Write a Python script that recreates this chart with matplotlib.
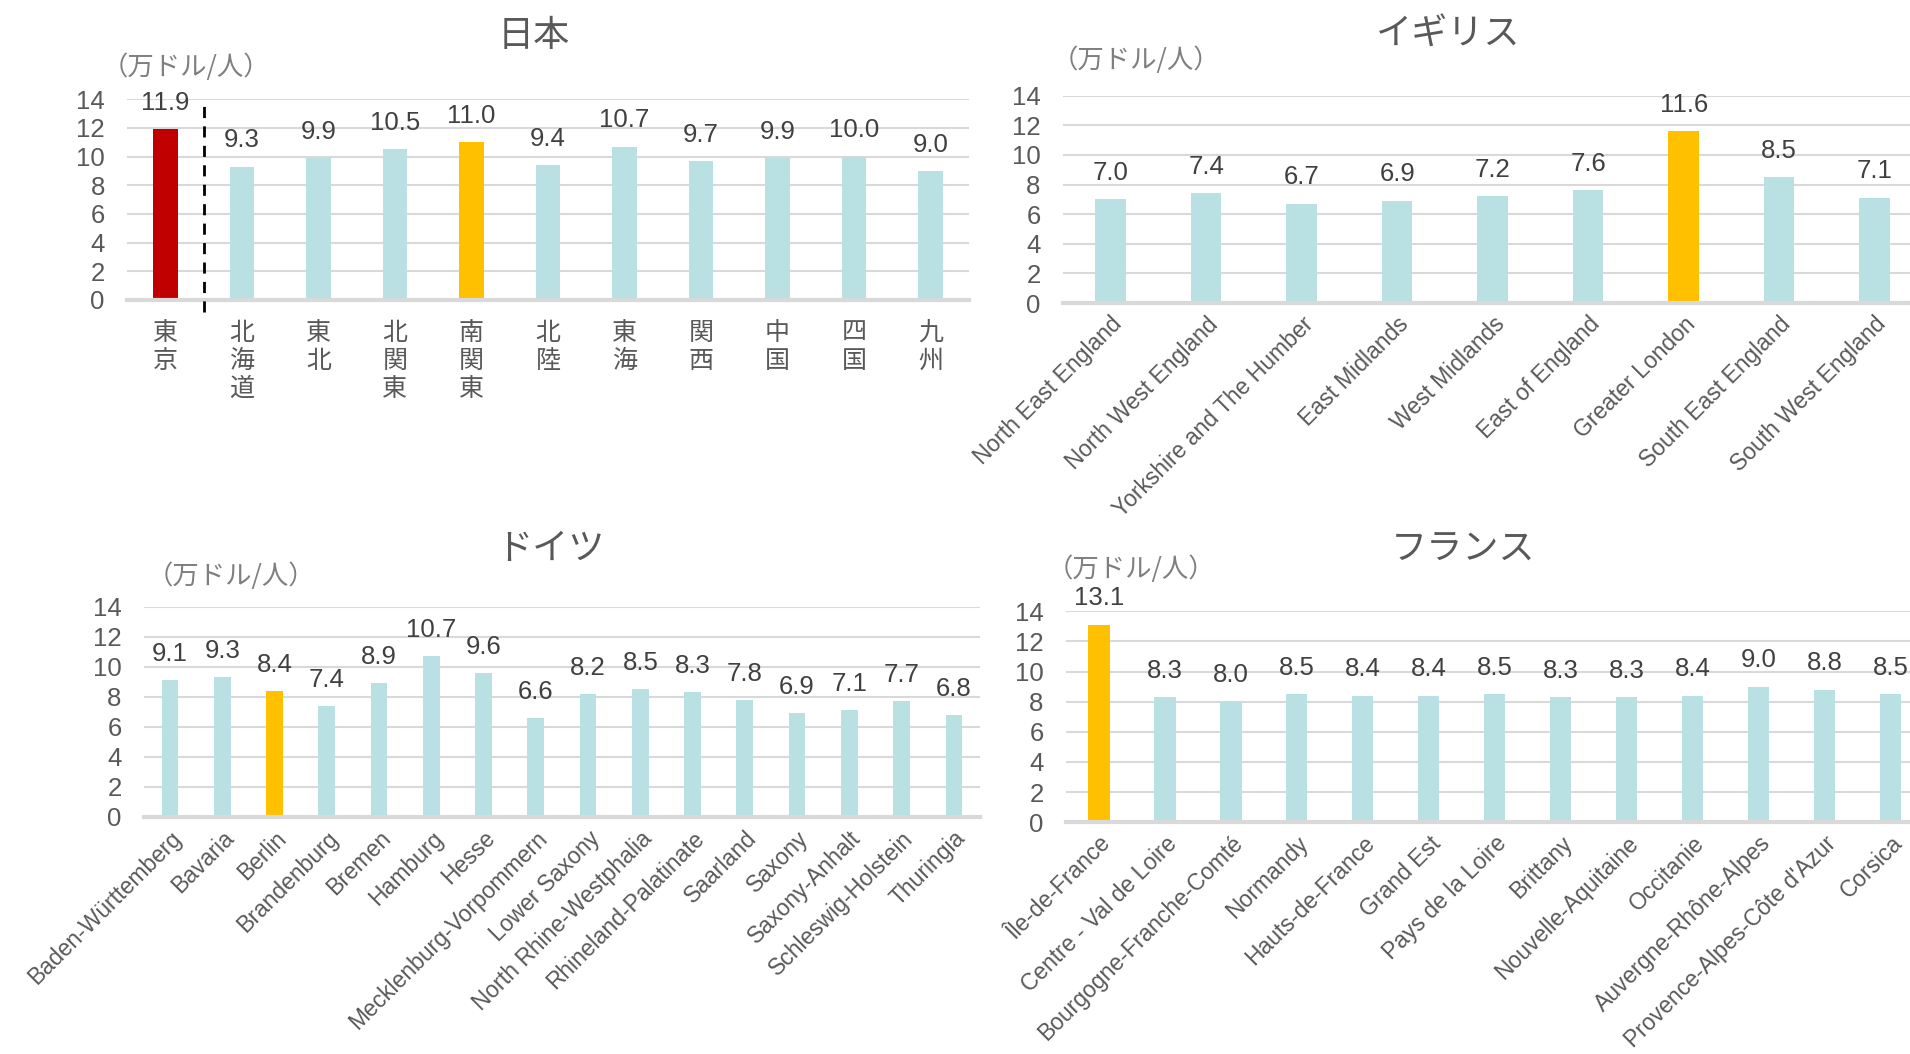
import matplotlib
matplotlib.use('Agg')
import matplotlib.pyplot as plt

plt.rcParams['font.family'] = ['Liberation Sans', 'Noto Sans CJK JP']

# 日本
jp_regions = ['東京', '北海道', '東北', '北関東', '南関東', '北陸', '東海', '関西', '中国', '四国', '九州']
jp_values = [11.9, 9.3, 9.9, 10.5, 11.0, 9.4, 10.7, 9.7, 9.9, 10.0, 9.0]
jp_highlight = {'東京': '#C00000', '南関東': '#FFC000'}

# イギリス
uk_regions = ['North East England', 'North West England', 'Yorkshire and The Humber',
              'East Midlands', 'West Midlands', 'East of England', 'Greater London',
              'South East England', 'South West England']
uk_values = [7.0, 7.4, 6.7, 6.9, 7.2, 7.6, 11.6, 8.5, 7.1]
uk_highlight = {'Greater London': '#FFC000'}

# ドイツ
de_regions = ['Baden-Württemberg', 'Bavaria', 'Berlin', 'Brandenburg', 'Bremen', 'Hamburg',
              'Hesse', 'Mecklenburg-Vorpommern', 'Lower Saxony', 'North Rhine-Westphalia',
              'Rhineland-Palatinate', 'Saarland', 'Saxony', 'Saxony-Anhalt',
              'Schleswig-Holstein', 'Thuringia']
de_values = [9.1, 9.3, 8.4, 7.4, 8.9, 10.7, 9.6, 6.6, 8.2, 8.5, 8.3, 7.8, 6.9, 7.1, 7.7, 6.8]
de_highlight = {'Berlin': '#FFC000'}

# フランス
fr_regions = ['Île-de-France', 'Centre - Val de Loire', 'Bourgogne-Franche-Comté', 'Normandy',
              'Hauts-de-France', 'Grand Est', 'Pays de la Loire', 'Brittany',
              'Nouvelle-Aquitaine', 'Occitanie', 'Auvergne-Rhône-Alpes',
              "Provence-Alpes-Côte d'Azur", 'Corsica']
fr_values = [13.1, 8.3, 8.0, 8.5, 8.4, 8.4, 8.5, 8.3, 8.3, 8.4, 9.0, 8.8, 8.5]
fr_highlight = {'Île-de-France': '#FFC000'}

unit = '（万ドル/人）'

BAR = '#B9E0E3'
GRID = '#D9D9D9'
TXT = '#595959'

fig = plt.figure(figsize=(19.1, 10.54), dpi=100)


# Function to draw one country panel
def draw_panel(rect, cats, vals, highlight, xmax, vertical=False):
    ax = fig.add_axes(rect)
    x = list(range(len(cats)))
    colors = [highlight.get(c, BAR) for c in cats]
    ax.bar(x, vals, width=0.32, color=colors, zorder=3)
    for xi, v in zip(x, vals):
        ax.annotate(f'{v:.1f}', (xi, v), xytext=(0, 19), textcoords='offset points',
                    ha='center', va='center', fontsize=18.5, color='#404040')
    ax.set_xlim(-0.5, xmax)
    ax.set_ylim(0, 14)
    ax.set_yticks(range(0, 15, 2))
    ax.yaxis.grid(True, color=GRID, lw=1.5, zorder=0)
    for s in ['top', 'right', 'left']:
        ax.spines[s].set_visible(False)
    ax.spines['bottom'].set_color(GRID)
    ax.spines['bottom'].set_linewidth(3)
    ax.spines['bottom'].set_zorder(4)
    ax.tick_params(length=0, labelsize=18.5, colors=TXT)
    ax.tick_params(axis='y', pad=16)
    ax.set_xticks(x)
    if vertical:
        ax.set_xticklabels(['\n'.join(c) for c in cats], fontsize=18, linespacing=1.22)
        ax.tick_params(axis='x', pad=15)
    else:
        ax.set_xticklabels(cats, rotation=45, ha='right', rotation_mode='anchor', fontsize=16.5)
        ax.tick_params(axis='x', pad=7)
    return ax


ax_jp = draw_panel([0.0665, 0.7154, 0.4408, 0.1904], jp_regions, jp_values, jp_highlight,
                   len(jp_regions) - 0.5, vertical=True)
ax_jp.axvline(0.5, ymin=-0.06, ymax=0.97, color='black', lw=2, ls=(0, (4, 3)),
              clip_on=False, zorder=5)

draw_panel([0.5565, 0.7125, 0.4435, 0.1967], uk_regions, uk_values, uk_highlight, 8.37)
draw_panel([0.0753, 0.2249, 0.4378, 0.1993], de_regions, de_values, de_highlight,
           len(de_regions) - 0.5)
draw_panel([0.5581, 0.2200, 0.4419, 0.2000], fr_regions, fr_values, fr_highlight, 12.29)

# titles
for tx, ty, t in [(0.2796, 0.9655, '日本'), (0.7584, 0.9675, 'イギリス'),
                  (0.288, 0.479, 'ドイツ'), (0.766, 0.479, 'フランス')]:
    fig.text(tx, ty, t, ha='center', va='center', fontsize=26, color=TXT,
             family='Noto Sans CJK JP')

# unit labels
for ux, uy in [(0.0974, 0.9367), (0.5945, 0.943), (0.121, 0.4533), (0.592, 0.4598)]:
    fig.text(ux, uy, unit, ha='center', va='center', fontsize=19, color='#7F7F7F',
             family='Noto Sans CJK JP')

fig.savefig('out.png', dpi=100)
